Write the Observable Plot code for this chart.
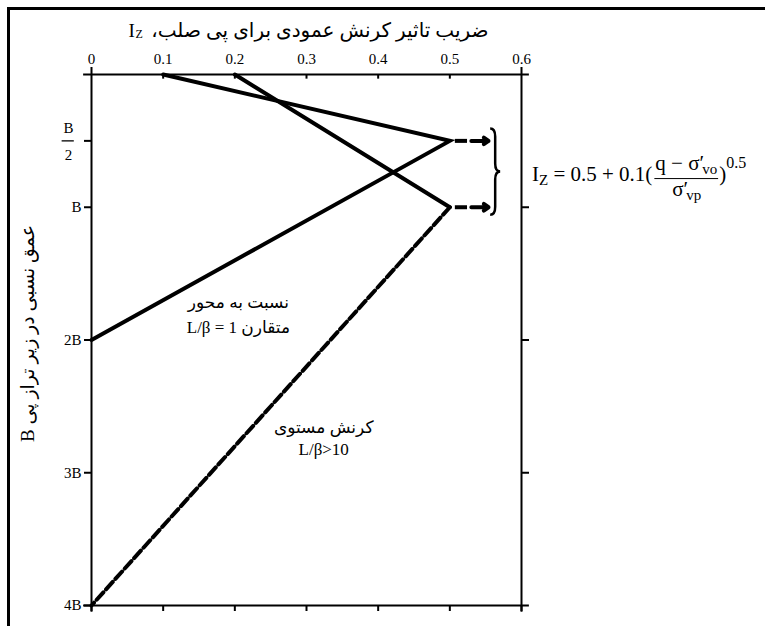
<!DOCTYPE html>
<html><head><meta charset="utf-8">
<script src="https://cdn.jsdelivr.net/npm/d3@7"></script>
<script src="https://cdn.jsdelivr.net/npm/@observablehq/plot@0.6"></script>
<style>
html,body{margin:0;padding:0;background:#fff;}
#wrap{position:relative;width:765px;height:626px;overflow:hidden;background:#fff;}
#wrap svg{position:absolute;left:0;top:0;}
#border{position:absolute;left:7px;top:7px;width:800px;height:700px;border-left:3px solid #000;border-top:3.5px solid #000;pointer-events:none;}
</style></head><body>
<div id="wrap"><div id="border"></div></div>
<script>
// ---- data ----
const xTicks = [0, 0.1, 0.2, 0.3, 0.4, 0.5, 0.6];
const xTickLabels = ["0", "0.1", "0.2", "0.3", "0.4", "0.5", "0.6"];
const yTicks = [0.5, 1, 2, 3, 4];
const yTickLabels = ["B/2", "B", "2B", "3B", "4B"];
const rightTicks = [1, 2, 3];
const squareIz = [0.1, 0.5, 0];
const squareDepth = [0, 0.5, 2];
const stripIz = [0.2, 0.5, 0];
const stripDepth = [0, 1, 4];
const peakDepths = [0.5, 1];
const titleText = "ضریب تاثیر کرنش عمودی برای پی صلب،";
const yAxisText = "عمق نسبی در زیر تراز پی B";
const squareLabel = ["نسبت به محور", "متقارن L/β = 1"];
const stripLabel = ["کرنش مستوی", "L/β>10"];

const rtl = s => "\u202B" + s + "\u202C";
const serif = "'Liberation Serif', 'Times New Roman', 'DejaVu Sans', serif";
const F = {fontFamily: serif};

const squareData = squareIz.map((x, i) => ({x, y: squareDepth[i]}));
const stripData = stripIz.map((x, i) => ({x, y: stripDepth[i]}));
const stripSolid = stripData.slice(0, 2);
const stripDashed = stripData.slice(1);
const fraction = yTickLabels[0].split("/");

const chart = Plot.plot({
  width: 765, height: 626,
  marginLeft: 91, marginRight: 244, marginTop: 74, marginBottom: 21,
  x: {domain: [0, 0.6]},
  y: {domain: [0, 4], reverse: true},
  style: {background: "transparent", color: "#000"},
  marks: [
    Plot.ruleY([0, 4], {x1: -0.011, x2: 0.611, strokeWidth: 2}),
    Plot.ruleX([0, 0.6], {y1: -0.053, y2: 4.05, strokeWidth: 2}),
    Plot.ruleX(xTicks.slice(1, -1), {y1: 0, y2: 0.035, strokeWidth: 2}),
    Plot.axisX(xTicks, {...F, anchor: "top", tickSize: 0, tickPadding: 11, fontSize: 15, label: null,
      tickFormat: d => xTickLabels[xTicks.indexOf(d)]}),
    Plot.axisX(xTicks, {anchor: "bottom", tickSize: 6, strokeWidth: 2, label: null, tickFormat: () => ""}),
    Plot.axisY(yTicks, {...F, anchor: "left", tickSize: 7, tickPadding: 3, strokeWidth: 2, fontSize: 15, label: null,
      tickFormat: d => d === 0.5 ? "" : yTickLabels[yTicks.indexOf(d)]}),
    Plot.axisY(rightTicks, {anchor: "right", tickSize: 7, strokeWidth: 2, label: null, tickFormat: () => ""}),
    // fraction label B/2
    Plot.text([fraction[0]], {...F, x: 0, y: yTicks[0], dx: -23, dy: -13, fontSize: 15}),
    Plot.text([fraction[1]], {...F, x: 0, y: yTicks[0], dx: -23, dy: 14, fontSize: 15}),
    Plot.ruleY([yTicks[0]], {x1: -0.041, x2: -0.024, strokeWidth: 1.3}),
    // curves
    Plot.line(squareData, {x: "x", y: "y", strokeWidth: 4, strokeLinejoin: "miter", strokeMiterlimit: 12}),
    Plot.line(stripSolid, {x: "x", y: "y", strokeWidth: 4}),
    Plot.line(stripDashed, {x: "x", y: "y", strokeWidth: 4, strokeDasharray: "10,4"}),
    // arrows
    Plot.link(peakDepths, {x1: 0.507, x2: 0.524, y1: d => d, y2: d => d, strokeWidth: 4}),
    Plot.arrow(peakDepths, {x1: 0.53, x2: 0.554, y1: d => d, y2: d => d, strokeWidth: 4, headLength: 9, headAngle: 70}),
    // annotations
    Plot.text([squareLabel.map(rtl).join("\n")], {...F, x: 0.205, y: 1.79, fontSize: 17, lineHeight: 1.5}),
    Plot.text([stripLabel.map(rtl).join("\n")], {...F, x: 0.324, y: 2.727, fontSize: 17, lineHeight: 1.3}),
    Plot.text([rtl(yAxisText)], {...F, x: -0.0893, y: 1.95, rotate: -90, fontSize: 19}),
    Plot.text([rtl(titleText)], {...F, x: 0.554, y: -0.33, textAnchor: "end", fontSize: 20}),
    Plot.text(["I"], {...F, x: 0.0516, y: -0.33, textAnchor: "start", fontSize: 19}),
    Plot.text(["Z"], {...F, x: 0.0516, y: -0.33, dx: 7, dy: 3, textAnchor: "start", fontSize: 12})
  ]
});
document.getElementById("wrap").insertBefore(chart, document.getElementById("border"));
d3.select(chart).selectAll("text").style("font-family", serif);

// brace and formula
const xs = chart.scale("x"), ys = chart.scale("y");
const svg = d3.select(chart);
const bx = xs.apply(0.557), bTop = ys.apply(0.41), bBot = ys.apply(1.06), bMid = (bTop + bBot) / 2;
const p = d3.path();
p.moveTo(bx, bTop);
p.quadraticCurveTo(bx + 5, bTop, bx + 5, bTop + 8);
p.lineTo(bx + 5, bMid - 8);
p.quadraticCurveTo(bx + 5, bMid, bx + 10, bMid);
p.quadraticCurveTo(bx + 5, bMid, bx + 5, bMid + 8);
p.lineTo(bx + 5, bBot - 8);
p.quadraticCurveTo(bx + 5, bBot, bx, bBot);
svg.append("path").attr("d", p.toString()).attr("fill", "none").attr("stroke", "#000").attr("stroke-width", 2.5);

const fx = xs.apply(0.6) + 11, fy = ys.apply(0.75) + 7;
const g = svg.append("g").style("font-family", serif).attr("font-size", 21).attr("fill", "#000").attr("text-anchor", "start");
const t1 = g.append("text").attr("x", fx).attr("y", fy);
t1.append("tspan").text("I");
t1.append("tspan").attr("font-size", 15).attr("dy", 4).text("Z");
t1.append("tspan").attr("dy", -4).text(" = 0.5 + 0.1(");
const b1 = t1.node().getBBox();
const nx = b1.x + b1.width + 3;
const num = g.append("text").attr("x", nx).attr("y", fy - 11);
num.append("tspan").text("q − σ′");
num.append("tspan").attr("font-size", 15).attr("dy", 4).attr("dx", -2).text("vo");
const nb = num.node().getBBox();
const barEnd = nx + nb.width + 1;
g.append("line").attr("x1", nx - 1).attr("x2", barEnd).attr("y1", fy - 2).attr("y2", fy - 2).attr("stroke", "#000").attr("stroke-width", 1);
const den = g.append("text").attr("x", (nx + barEnd) / 2).attr("y", fy + 15).attr("text-anchor", "middle");
den.append("tspan").text("σ′");
den.append("tspan").attr("font-size", 15).attr("dy", 4).attr("dx", -2).text("vp");
const close = g.append("text").attr("x", barEnd + 1).attr("y", fy);
close.append("tspan").text(")");
close.append("tspan").attr("font-size", 16).attr("dy", -13).text("0.5");
</script>
</body></html>
